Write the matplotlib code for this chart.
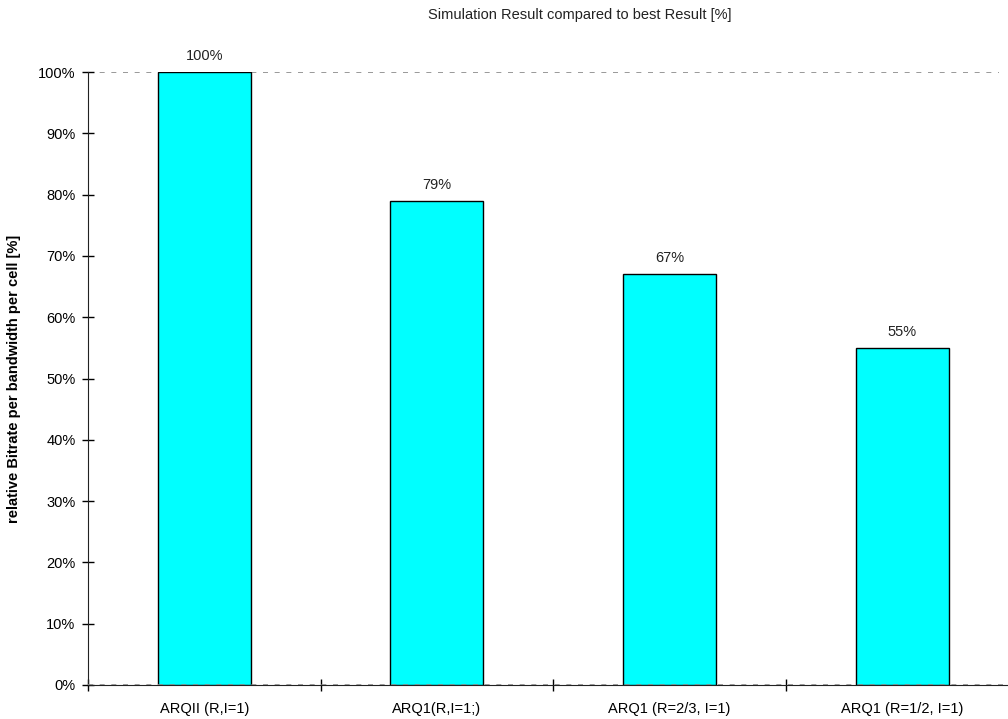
import matplotlib
matplotlib.use("Agg")
import matplotlib.pyplot as plt
from matplotlib.ticker import FuncFormatter

categories = ["ARQII (R,I=1)", "ARQ1(R,I=1;)", "ARQ1 (R=2/3, I=1)", "ARQ1 (R=1/2, I=1)"]
values = [100, 79, 67, 55]
yticks = [0, 10, 20, 30, 40, 50, 60, 70, 80, 90, 100]

plt.rcParams['font.family'] = ['Liberation Sans', 'DejaVu Sans']

fig = plt.figure(figsize=(10.08, 7.19), dpi=100)
ax = fig.add_axes([88 / 1008, 34 / 719, 920 / 1008, 613 / 719])

x = list(range(len(categories)))
ax.bar(x, values, width=0.4, color="#00FFFF", edgecolor="black", linewidth=1, zorder=3)

for xi, v in zip(x, values):
    ax.text(xi, v + 1.5, f"{v}%", ha="center", va="bottom", fontsize=10.5, color="#222222")

ax.axhline(100, color="#888888", linestyle=(0, (3, 4)), linewidth=1.2, xmax=0.99, zorder=1)
ax.axhline(0, color="#888888", linestyle=(0, (3, 4)), linewidth=1.2, zorder=4)

ax.set_xlim(-0.5, 3.455)
ax.set_ylim(0, 100)
ax.set_yticks(yticks)
ax.yaxis.set_major_formatter(FuncFormatter(lambda v, p: f"{int(v)}%"))

# category ticks sit on the boundaries, labels in the middle
ax.set_xticks([-0.5, 0.5, 1.5, 2.5])
ax.set_xticklabels([])
ax.set_xticks(x, minor=True)
ax.set_xticklabels(categories, minor=True)
ax.tick_params(axis="x", which="minor", length=0, pad=12, labelsize=10.5)
ax.tick_params(axis="x", which="major", direction="inout", length=9, width=1)
ax.tick_params(axis="y", direction="inout", length=8, width=1, labelsize=10.5, pad=5)

for s in ["top", "right"]:
    ax.spines[s].set_visible(False)
ax.spines["left"].set_color("#222222")
ax.spines["bottom"].set_color("#222222")

ax.set_ylabel("relative Bitrate per bandwidth per cell [%]", fontsize=10.5, fontweight="bold", labelpad=12)

fig.text(580 / 1008, 1 - 15 / 719, "Simulation Result compared to best Result [%]",
         ha="center", va="center", fontsize=10.5, color="#222222")

fig.savefig("out.png", dpi=100)
